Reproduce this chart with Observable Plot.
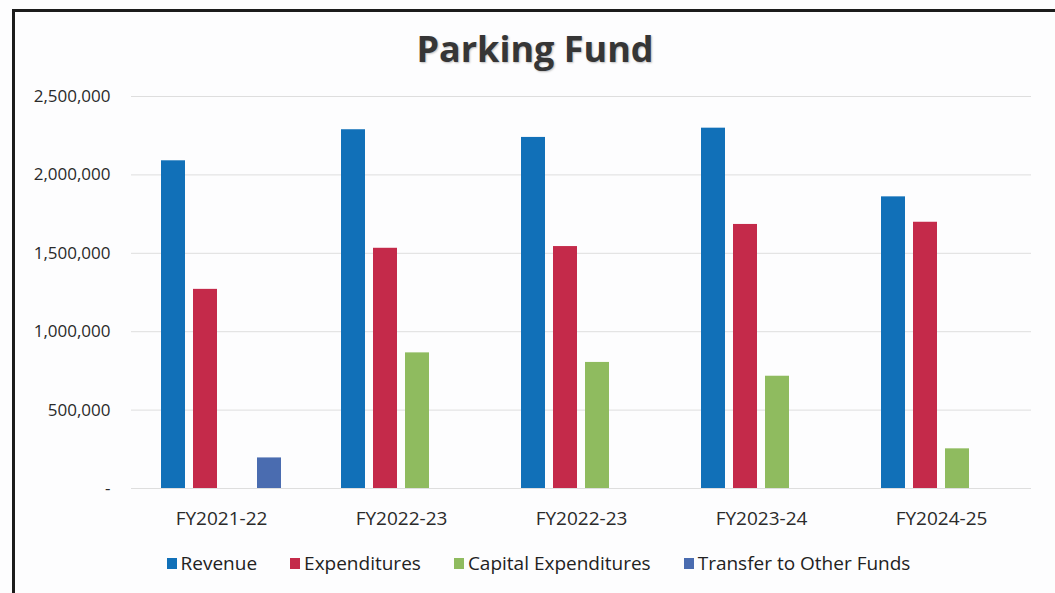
<!DOCTYPE html>
<html>
<head>
<meta charset="utf-8">
<script src="https://cdn.jsdelivr.net/npm/d3@7"></script>
<script src="https://cdn.jsdelivr.net/npm/@observablehq/plot@0.6"></script>
<style>
  html, body { margin: 0; padding: 0; background: #ffffff; }
  body { font-family: "Open Sans", sans-serif; }
  #wrap { position: relative; width: 1055px; height: 593px; overflow: hidden; background: #fdfdfe; }
  #frame { position: absolute; left: 12px; top: 9px; width: 1200px; height: 800px;
           border-left: 3px solid #1c1c1c; border-top: 3px solid #1c1c1c; }
  #title { position: absolute; left: 0; top: 31px; width: 1070px; text-align: center;
           font-size: 36px; line-height: 36px; font-weight: 700; color: #363636;
           text-shadow: 1px 1px 2px rgba(0,0,0,0.25); }
  #chart { position: absolute; left: 0; top: 80px; }
  #legend { position: absolute; left: 0; top: 552px; width: 1077px; display: flex;
            justify-content: center; gap: 33px; font-size: 19px; line-height: 22px; color: #222; }
  .item { display: flex; align-items: center; gap: 4px; }
  .sw { width: 10px; height: 11px; display: inline-block; }
</style>
</head>
<body>
<div id="wrap">
  <div id="frame"></div>
  <div id="title">Parking Fund</div>
  <div id="chart"></div>
  <div id="legend"></div>
</div>
<script>
const categories = ["FY2021-22", "FY2022-23", "FY2022-23", "FY2023-24", "FY2024-25"];
const seriesNames = ["Revenue", "Expenditures", "Capital Expenditures", "Transfer to Other Funds"];
const revenue = [2090000, 2288000, 2239000, 2298000, 1860000];
const expenditures = [1270000, 1532000, 1543000, 1684000, 1698000];
const capitalExpenditures = [null, 865000, 804000, 716000, 253000];
const transferToOtherFunds = [195000, null, null, null, null];
const seriesColors = ["#1170b8", "#c42a4a", "#8fbb5f", "#4a6cb0"];
const yTicks = [0, 500000, 1000000, 1500000, 2000000, 2500000];

const seriesValues = [revenue, expenditures, capitalExpenditures, transferToOtherFunds];
const data = categories.flatMap((cat, i) =>
  seriesNames.map((s, j) => ({ key: i, category: cat, series: s, value: seriesValues[j][i] }))
).filter(d => d.value != null);

const chart = Plot.plot({
  width: 1055,
  height: 470,
  marginTop: 16,
  marginBottom: 62,
  marginLeft: 129,
  marginRight: 22,
  style: { fontFamily: "Open Sans, sans-serif", fontSize: "17px", color: "#2a2a2a", background: "transparent" },
  fx: {
    domain: categories.map((_, i) => i),
    padding: 0,
    label: null,
    axis: "bottom",
    tickSize: 0,
    tickPadding: 23,
    tickFormat: i => categories[i]
  },
  x: { domain: seriesNames, axis: null, paddingInner: 0.24, paddingOuter: 0.862 },
  y: {
    domain: [0, 2500000],
    ticks: yTicks,
    tickSize: 0,
    tickPadding: 21,
    label: null,
    tickFormat: d => d === 0 ? "-" : d3.format(",")(d)
  },
  color: { domain: seriesNames, range: seriesColors },
  marks: [
    Plot.ruleY(yTicks, { stroke: "#dedede", strokeWidth: 1 }),
    Plot.barY(data, { fx: "key", x: "series", y: "value", fill: "series" })
  ]
});
document.getElementById("chart").appendChild(chart);

// enlarge the category labels
d3.select(chart).selectAll("g[aria-label^='fx-axis']").style("font-size", "19px");

const legend = d3.select("#legend");
seriesNames.forEach((s, i) => {
  const it = legend.append("div").attr("class", "item");
  it.append("span").attr("class", "sw").style("background", seriesColors[i]);
  it.append("span").text(s);
});
</script>
</body>
</html>
